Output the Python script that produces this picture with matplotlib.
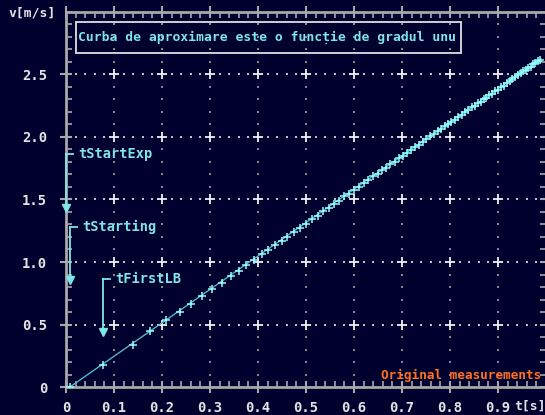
import matplotlib
matplotlib.use("Agg")
import matplotlib.pyplot as plt
import numpy as np
from matplotlib.patches import Rectangle

# ---- data ----
t_meas = [0.008, 0.078, 0.139, 0.176, 0.208, 0.2375, 0.26, 0.283, 0.305, 0.324,
          0.343, 0.36, 0.376, 0.392, 0.408, 0.421, 0.435, 0.449, 0.461, 0.475,
          0.4875, 0.5, 0.5125, 0.524, 0.536, 0.547, 0.558, 0.569, 0.580, 0.590,
          0.600, 0.610, 0.620, 0.630, 0.640, 0.649, 0.658, 0.667, 0.676, 0.685,
          0.694, 0.703, 0.711, 0.719, 0.727, 0.735, 0.743, 0.751, 0.759, 0.767,
          0.775, 0.782, 0.789, 0.796, 0.803, 0.810, 0.817, 0.824, 0.831, 0.838,
          0.845, 0.852, 0.858, 0.864, 0.870, 0.876, 0.882, 0.888, 0.894, 0.900,
          0.906, 0.912, 0.918, 0.924, 0.930, 0.936, 0.942, 0.948, 0.953, 0.958,
          0.963, 0.968, 0.973, 0.978, 0.983, 0.988]
v_meas = [0.0, 0.176, 0.339, 0.446, 0.533, 0.60, 0.665, 0.728, 0.787, 0.835,
          0.885, 0.932, 0.975, 1.017, 1.06, 1.095, 1.133, 1.170, 1.202, 1.240,
          1.274, 1.307, 1.343, 1.370, 1.406, 1.432, 1.465, 1.491, 1.524, 1.547,
          1.578, 1.601, 1.632, 1.655, 1.685, 1.706, 1.734, 1.754, 1.782, 1.802,
          1.831, 1.851, 1.876, 1.894, 1.919, 1.937, 1.962, 1.980, 2.005, 2.023,
          2.048, 2.063, 2.086, 2.101, 2.123, 2.138, 2.161, 2.176, 2.199, 2.213,
          2.236, 2.251, 2.271, 2.283, 2.303, 2.316, 2.336, 2.348, 2.368, 2.380,
          2.400, 2.412, 2.432, 2.445, 2.465, 2.477, 2.497, 2.509, 2.526, 2.536,
          2.553, 2.563, 2.580, 2.590, 2.607, 2.618]
t_fit = [0.008, 0.99]
v_fit = [0.0, 2.625]

x_major = [0, 0.1, 0.2, 0.3, 0.4, 0.5, 0.6, 0.7, 0.8, 0.9]
x_labels = ["0", "0.1", "0.2", "0.3", "0.4", "0.5", "0.6", "0.7", "0.8", "0.9"]
y_major = [0, 0.5, 1.0, 1.5, 2.0, 2.5]
y_labels = ["0", "0.5", "1.0", "1.5", "2.0", "2.5"]

title_text = "Curba de aproximare este o funcție de gradul unu"
legend_text = "Original measurements"

# markers (label, text t, horizontal y, vertical x, arrow tip y)
ann_labels = ["tStartExp", "tStarting", "tFirstLB"]
ann_text_t = [0.025, 0.033, 0.102]
ann_y = [1.864, 1.283, 0.867]
ann_x = [0.001, 0.0083, 0.078]
ann_tip = [1.41, 0.83, 0.416]

# ---- style ----
BG = "#00002e"
AX = "#a8a8a8"
FG = "#e4e4e4"
CYAN = "#7ee6e6"
FONT = "DejaVu Sans Mono"

W, H = 545, 415
fig = plt.figure(figsize=(W / 100, H / 100), dpi=100, facecolor=BG)
ax = fig.add_axes([66 / W, (H - 387) / H, 480 / W, 375 / H], facecolor=BG)
ax.set_xlim(0, 1.0)
ax.set_ylim(0, 3.0)

for s in ax.spines.values():
    s.set_color(AX)
    s.set_linewidth(2)

ax.set_xticks(x_major)
ax.set_xticklabels(x_labels)
ax.set_yticks(y_major)
ax.set_yticklabels(y_labels)
ax.set_xticks(np.arange(0, 1.0001, 0.02), minor=True)
ax.set_yticks(np.arange(0, 3.0001, 0.1), minor=True)
ax.tick_params(which="major", axis="both", direction="inout", length=9, width=1.5,
               color=AX, labelcolor=FG, top=True, right=True)
ax.tick_params(which="minor", axis="both", direction="in", length=4, width=1.2,
               color=AX, top=True, right=True)
ax.tick_params(axis="x", which="major", pad=5.5)
ax.tick_params(axis="y", which="major", pad=9)
for lab in ax.get_xticklabels() + ax.get_yticklabels():
    lab.set_fontfamily(FONT)
    lab.set_fontweight("bold")
    lab.set_fontsize(10)

# grid dots
gx = np.array(x_major[1:] + [1.0])
gy = np.array(y_major[1:])
xs_dot = np.arange(0.02, 1.0, 0.02)
ys_dot = np.arange(0.1, 3.0, 0.1)
hx, hy = np.meshgrid(xs_dot, gy)
ax.scatter(hx.ravel(), hy.ravel(), s=1.0, marker="s", color="#c0c0c0", lw=0, zorder=1)
vx, vy = np.meshgrid(gx, ys_dot)
ax.scatter(vx.ravel(), vy.ravel(), s=1.0, marker="s", color="#8a8a8a", lw=0, zorder=1)
px, py = np.meshgrid(gx, gy)
ax.scatter(px.ravel(), py.ravel(), s=60, marker="+", color="#f0f0f0", lw=1.3, zorder=1)

# data
ax.plot(t_fit, v_fit, color="#4fb8c8", lw=1.0, zorder=3)
ax.plot(t_meas, v_meas, ls="none", marker="+", ms=6, mew=1.1, color="#90ffff", zorder=4)

# annotations
for lab, tt, yy, xx, tip in zip(ann_labels, ann_text_t, ann_y, ann_x, ann_tip):
    ax.plot([xx, xx + 0.014], [yy, yy], color=CYAN, lw=1.3, zorder=5, clip_on=False)
    ax.plot([xx, xx], [yy, tip + 0.04], color=CYAN, lw=1.3, zorder=5, clip_on=False)
    ax.plot([xx], [tip + 0.025], marker="v", ms=6, color=CYAN, lw=0, zorder=5, clip_on=False)
    ax.text(tt, yy, lab, color=CYAN, fontfamily=FONT, fontweight="bold",
            fontsize=9.8, va="center", ha="left", zorder=6)

# title box
fig.patches.append(Rectangle((76 / W, 1 - 53 / H), (461 - 76) / W, 31 / H,
                             transform=fig.transFigure, fill=False,
                             edgecolor="#e0e0e0", lw=1.3, zorder=10))
fig.text(267 / W, 1 - 37.5 / H, title_text, color=CYAN, fontfamily=FONT,
         fontweight="bold", fontsize=9.4, ha="center", va="center")

fig.text(381 / W, 1 - 375 / H, legend_text, color="#ff7020", fontfamily=FONT,
         fontweight="bold", fontsize=9.2, ha="left", va="center")
fig.text(8 / W, 1 - 13 / H, "v[m/s]", color=FG, fontfamily=FONT,
         fontweight="bold", fontsize=9.4, ha="left", va="center")
fig.text(514 / W, 1 - 406 / H, "t[s]", color=FG, fontfamily=FONT,
         fontweight="bold", fontsize=9.4, ha="left", va="center")

fig.savefig("out.png", dpi=100, facecolor=BG)
